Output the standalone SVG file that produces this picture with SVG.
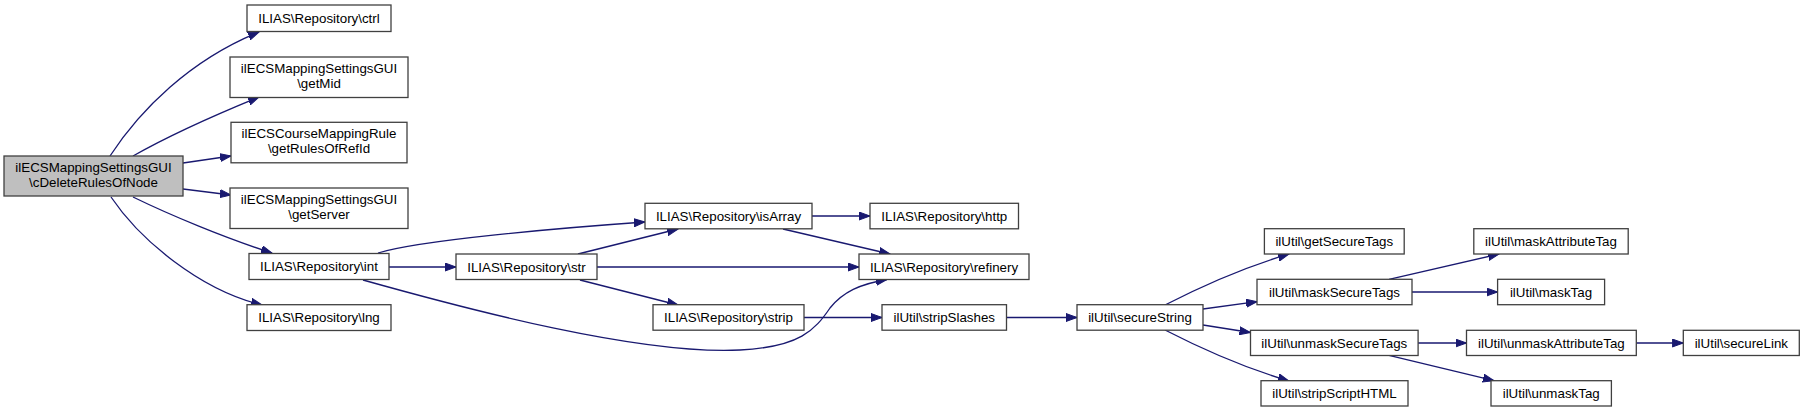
<svg xmlns="http://www.w3.org/2000/svg" width="1804" height="412" viewBox="0 0 1804 412">
<style>
.n rect{fill:#ffffff;stroke:#404040;stroke-width:1.3}
.m rect{fill:#bfbfbf;stroke:#404040;stroke-width:1.3}
text{font-family:"Liberation Sans",Arial,Helvetica,sans-serif;font-size:13.33px;text-anchor:middle;fill:#000}
.e path{fill:none;stroke:#191970;stroke-width:1.3;marker-end:url(#ah)}
</style>
<defs>
<marker id="ah" markerUnits="userSpaceOnUse" markerWidth="12" markerHeight="9" refX="11" refY="4" orient="auto" viewBox="0 0 12 8">
<path d="M0,0 L11,4 L0,8 z" fill="#191970" stroke="#191970" stroke-width="1"/>
</marker>
</defs>
<rect width="1804" height="412" fill="#ffffff"/>
<g id="connectors" class="e">
<path d="M110,156 C140,110 190,60 259,32"/>
<path d="M133,156 C170,135 215,115 259,97"/>
<path d="M183,163 L231,156"/>
<path d="M183,189 L231,195"/>
<path d="M133,197 C170,215 225,238 272,253"/>
<path d="M111,197 C140,240 200,290 262,305"/>
<path d="M378,253 C420,240 560,228 645,222"/>
<path d="M389,267 L456,267"/>
<path d="M363,280 C470,310 640,355 740,350 C800,347 815,330 830,308 C843,292 860,284 887,279.5"/>
<path d="M578,254 L678,229"/>
<path d="M597,267 L859,267"/>
<path d="M580,280 L678,305"/>
<path d="M812,216 L870,216"/>
<path d="M783,229 L890,254"/>
<path d="M804,317.5 L882,317.5"/>
<path d="M1006.5,317.5 L1077,317.5"/>
<path d="M1165,305 C1200,287 1245,267 1289,254"/>
<path d="M1203,309 L1257,301.7"/>
<path d="M1203,325 L1250.5,332.5"/>
<path d="M1165,330 C1200,348 1245,368 1289,381"/>
<path d="M1389,279.3 L1499,254"/>
<path d="M1412,292 L1497.6,292"/>
<path d="M1418,343 L1466.5,343"/>
<path d="M1389,355.3 L1494,380.7"/>
<path d="M1636.3,343 L1683.3,343"/>
</g>
<g id="main" class="m"><rect x="4" y="156" width="179" height="40"/><text x="93.5" y="172">ilECSMappingSettingsGUI</text><text x="93.5" y="187">\cDeleteRulesOfNode</text></g>
<g id="ctrl" class="n"><rect x="247" y="5" width="144" height="26.5"/><text x="319" y="23">ILIAS\Repository\ctrl</text></g>
<g id="getMid" class="n"><rect x="230" y="57" width="178" height="40.5"/><text x="319" y="73">ilECSMappingSettingsGUI</text><text x="319" y="88">\getMid</text></g>
<g id="getRulesOfRefId" class="n"><rect x="231" y="122.3" width="176" height="40.5"/><text x="319" y="138.3">ilECSCourseMappingRule</text><text x="319" y="153.3">\getRulesOfRefId</text></g>
<g id="getServer" class="n"><rect x="230" y="188" width="178" height="40.5"/><text x="319" y="204">ilECSMappingSettingsGUI</text><text x="319" y="219">\getServer</text></g>
<g id="int" class="n"><rect x="249" y="253.5" width="140" height="26"/><text x="319" y="271">ILIAS\Repository\int</text></g>
<g id="lng" class="n"><rect x="247" y="304.7" width="144" height="25.8"/><text x="319" y="322">ILIAS\Repository\lng</text></g>
<g id="str" class="n"><rect x="456" y="254" width="141" height="25.5"/><text x="526.5" y="271.5">ILIAS\Repository\str</text></g>
<g id="isArray" class="n"><rect x="645" y="203.3" width="167" height="25.5"/><text x="728.5" y="220.8">ILIAS\Repository\isArray</text></g>
<g id="strip" class="n"><rect x="653" y="304.7" width="151" height="25.5"/><text x="728.5" y="322.2">ILIAS\Repository\strip</text></g>
<g id="http" class="n"><rect x="870" y="203.3" width="148.5" height="25.5"/><text x="944.3" y="220.8">ILIAS\Repository\http</text></g>
<g id="refinery" class="n"><rect x="859" y="254" width="170" height="25.5"/><text x="944" y="271.5">ILIAS\Repository\refinery</text></g>
<g id="stripSlashes" class="n"><rect x="882" y="304.7" width="124.5" height="25.5"/><text x="944.3" y="322.2">ilUtil\stripSlashes</text></g>
<g id="secureString" class="n"><rect x="1077" y="304.7" width="126" height="25.5"/><text x="1140" y="322.2">ilUtil\secureString</text></g>
<g id="getSecureTags" class="n"><rect x="1264.4" y="228.7" width="139.8" height="25.3"/><text x="1334.3" y="246">ilUtil\getSecureTags</text></g>
<g id="maskSecureTags" class="n"><rect x="1257" y="279.3" width="155" height="25.4"/><text x="1334.5" y="296.7">ilUtil\maskSecureTags</text></g>
<g id="unmaskSecureTags" class="n"><rect x="1250.5" y="330.3" width="167.6" height="25.2"/><text x="1334.3" y="347.7">ilUtil\unmaskSecureTags</text></g>
<g id="stripScriptHTML" class="n"><rect x="1261" y="380.7" width="147" height="25.3"/><text x="1334.5" y="398">ilUtil\stripScriptHTML</text></g>
<g id="maskAttributeTag" class="n"><rect x="1473.8" y="228.7" width="154.4" height="25.3"/><text x="1551" y="246">ilUtil\maskAttributeTag</text></g>
<g id="maskTag" class="n"><rect x="1497.6" y="279.3" width="107" height="25.4"/><text x="1551" y="296.7">ilUtil\maskTag</text></g>
<g id="unmaskAttributeTag" class="n"><rect x="1466.5" y="330.3" width="169.8" height="25.2"/><text x="1551.4" y="347.7">ilUtil\unmaskAttributeTag</text></g>
<g id="unmaskTag" class="n"><rect x="1491" y="380.7" width="120.4" height="25.3"/><text x="1551.2" y="398">ilUtil\unmaskTag</text></g>
<g id="secureLink" class="n"><rect x="1683.3" y="330.3" width="116" height="25.2"/><text x="1741.3" y="347.7">ilUtil\secureLink</text></g>
</svg>
